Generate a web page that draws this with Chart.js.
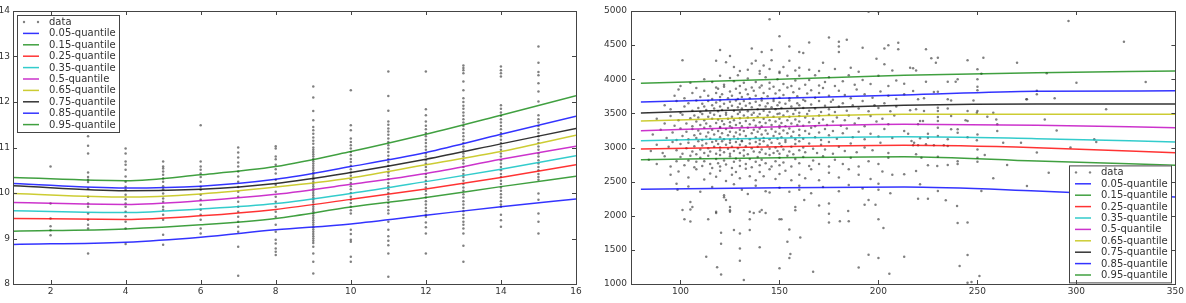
<!DOCTYPE html>
<html lang="en">

<head>
  <meta charset="UTF-8">
  <title>Quantile regression</title>
  <script src="https://cdn.jsdelivr.net/npm/chart.js"></script>
  <style>
    body { margin: 0; background: #fff; overflow: hidden; }
    canvas { position: absolute; top: 0; }
    #leftChart { left: -20px; }
    #rightChart { left: 590px; }
  </style>
</head>

<body>
  <canvas id="leftChart" width="610" height="303"></canvas>
  <canvas id="rightChart" width="596" height="303"></canvas>

  <script>
    // ---- left panel data ----
    const leftXTicks = [2, 4, 6, 8, 10, 12, 14, 16];
    const leftYTicks = [8, 9, 10, 11, 12, 13, 14];
    const leftColumnsX = [2, 3, 4, 5, 6, 7, 8, 9, 10, 11, 12, 13, 14, 15];
    const leftColumnsY = [
      [10.58, 9.77, 9.44, 9.27, 9.18, 9.07],
      [11.25, 11.04, 10.87, 10.45, 10.35, 10.29, 10.24, 10.10, 9.92, 9.77, 9.70, 9.55, 9.41, 9.30, 9.22, 8.67],
      [10.98, 10.87, 10.69, 10.62, 10.51, 10.36, 10.25, 10.14, 10.07, 9.96, 9.86, 9.77, 9.70, 9.59, 9.49, 9.37, 9.22, 8.88],
      [10.69, 10.58, 10.54, 10.47, 10.40, 10.32, 10.25, 10.15, 10.08, 9.99, 9.88, 9.81, 9.70, 9.63, 9.52, 9.41, 9.08, 8.86],
      [11.49, 10.69, 10.58, 10.51, 10.43, 10.35, 10.25, 10.14, 10.07, 9.96, 9.85, 9.74, 9.63, 9.52, 9.41, 9.22, 9.11],
      [11.00, 10.89, 10.78, 10.67, 10.58, 10.47, 10.36, 10.25, 10.13, 10.03, 9.92, 9.81, 9.70, 9.59, 9.48, 9.37, 9.26, 9.15, 8.82, 8.18],
      [11.03, 10.98, 10.80, 10.74, 10.62, 10.52, 10.43, 10.29, 10.18, 10.03, 9.92, 9.81, 9.70, 9.59, 9.48, 9.30, 9.15, 8.97, 8.89, 8.78, 8.71, 8.64],
      [12.34, 12.10, 11.80, 11.60, 11.45, 11.38, 11.30, 11.22, 11.15, 11.08, 11.00, 10.95, 10.90, 10.85, 10.80, 10.75, 10.70, 10.65, 10.60, 10.55, 10.50, 10.45, 10.40, 10.35, 10.30, 10.25, 10.20, 10.15, 10.10, 10.05, 10.00, 9.95, 9.90, 9.85, 9.80, 9.75, 9.70, 9.65, 9.60, 9.55, 9.50, 9.45, 9.40, 9.35, 9.30, 9.25, 9.20, 9.15, 9.10, 9.05, 9.00, 8.95, 8.90, 8.82, 8.67, 8.49, 8.23],
      [12.26, 11.49, 11.38, 11.20, 11.12, 11.05, 10.98, 10.90, 10.83, 10.75, 10.68, 10.60, 10.52, 10.45, 10.38, 10.30, 10.22, 10.15, 10.08, 10.00, 9.92, 9.85, 9.78, 9.70, 9.62, 9.55, 9.19, 9.10, 8.97, 8.93, 8.60, 8.49],
      [12.67, 12.13, 11.81, 11.57, 11.50, 11.42, 11.35, 11.28, 11.20, 11.12, 11.05, 10.98, 10.90, 10.82, 10.75, 10.68, 10.60, 10.52, 10.45, 10.38, 10.30, 10.22, 10.15, 10.08, 10.00, 9.92, 9.85, 9.78, 9.70, 9.62, 9.55, 9.37, 9.19, 9.05, 8.95, 8.85, 8.67, 8.16],
      [12.67, 11.84, 11.71, 11.57, 11.48, 11.40, 11.32, 11.25, 11.17, 11.10, 11.02, 10.95, 10.87, 10.80, 10.72, 10.65, 10.57, 10.50, 10.42, 10.35, 10.27, 10.20, 10.12, 10.05, 9.97, 9.90, 9.82, 9.75, 9.67, 9.60, 9.52, 9.48, 9.35, 9.25, 9.11, 8.67],
      [12.80, 12.75, 12.70, 12.63, 12.45, 12.26, 12.08, 12.00, 11.92, 11.85, 11.77, 11.70, 11.62, 11.55, 11.47, 11.40, 11.32, 11.25, 11.17, 11.10, 11.02, 10.95, 10.87, 10.80, 10.72, 10.65, 10.57, 10.50, 10.42, 10.35, 10.27, 10.20, 10.12, 10.05, 9.97, 9.90, 9.82, 9.75, 9.67, 9.60, 9.52, 9.45, 9.37, 9.30, 9.22, 9.11, 8.84, 8.49],
      [12.78, 12.70, 12.63, 12.56, 11.93, 11.85, 11.77, 11.70, 11.62, 11.55, 11.47, 11.40, 11.32, 11.25, 11.17, 11.10, 11.02, 10.95, 10.87, 10.80, 10.72, 10.65, 10.57, 10.50, 10.42, 10.35, 10.27, 10.20, 10.12, 10.05, 9.97, 9.90, 9.82, 9.75, 9.70, 9.52, 9.40, 9.26],
      [13.22, 12.86, 12.66, 12.59, 12.41, 12.23, 12.01, 11.71, 11.62, 11.55, 11.47, 11.40, 11.32, 11.25, 11.17, 11.10, 11.02, 10.95, 10.87, 10.80, 10.72, 10.65, 10.57, 10.50, 10.42, 10.35, 10.29, 9.99, 9.85, 9.55, 9.37, 9.11]
    ];
    // quantile curves, read at these x positions
    const leftCurveX = [1, 4, 6, 8, 10, 12, 14, 16];
    const leftQ05 = [8.87, 8.92, 9.03, 9.19, 9.32, 9.51, 9.70, 9.87];
    const leftQ15 = [9.16, 9.21, 9.30, 9.44, 9.69, 9.90, 10.14, 10.37];
    const leftQ25 = [9.44, 9.42, 9.50, 9.64, 9.86, 10.09, 10.34, 10.62];
    const leftQ35 = [9.61, 9.57, 9.65, 9.77, 9.99, 10.25, 10.52, 10.82];
    const leftQ50 = [9.79, 9.75, 9.83, 9.97, 10.19, 10.43, 10.74, 11.03];
    const leftQ65 = [9.99, 9.91, 9.98, 10.13, 10.33, 10.62, 10.91, 11.27];
    const leftQ75 = [10.16, 10.05, 10.08, 10.21, 10.45, 10.74, 11.08, 11.42];
    const leftQ85 = [10.21, 10.11, 10.15, 10.30, 10.58, 10.89, 11.29, 11.69];
    const leftQ95 = [10.34, 10.27, 10.40, 10.58, 10.91, 11.29, 11.71, 12.14];

    // ---- right panel data ----
    const rightXTicks = [100, 150, 200, 250, 300, 350];
    const rightYTicks = [1000, 1500, 2000, 2500, 3000, 3500, 4000, 4500, 5000];
    const rightPoints = [
      // high outliers
      [145,4880],[150,4630],[101,4280],[120,4430],[125,4340],[136,4450],[141,4400],[146,4430],[155,4480],[165,4540],
      [175,4610],[180,4550],[180,4480],[180,4400],[184,4580],[192,4460],[203,4450],[205,4500],[195,4990],[200,4990],
      [160,4400],[162,4385],
      // 4100 - 4300
      [118,4270],[123,4250],[127,4180],[130,4120],[134,4140],[136,4230],[138,4270],[140,4120],[142,4200],[145,4150],
      [146,4280],[150,4110],[152,4180],[155,4270],[158,4130],[160,4170],[165,4140],[170,4120],[172,4240],[178,4150],
      [186,4170],[190,4110],[199,4300],[203,4220],[207,4130],
      // 3900 - 4100
      [100,3900],[105,3950],[112,4000],[116,3960],[118,3880],[120,4050],[122,3920],[125,4020],[127,3970],[129,4060],
      [130,3900],[132,3950],[134,4010],[136,3880],[138,3960],[140,4080],[141,3910],[143,4030],[145,3950],[147,3890],
      [149,4000],[150,4090],[152,3930],[154,4050],[156,3900],[158,3980],[160,4050],[163,3920],[165,3990],[168,4060],
      [170,3910],[173,3960],[175,4030],[178,3900],[182,3970],[185,4060],[188,3920],[192,3990],[196,3930],[200,4050],
      [205,3900],[209,3980],
      // 3700 - 3900
      [97,3760],[99,3850],[102,3720],[106,3800],[108,3870],[110,3740],[112,3830],[114,3760],[116,3710],[118,3800],
      [119,3860],[120,3740],[121,3780],[122,3890],[124,3720],[125,3820],[126,3760],[128,3860],[129,3710],[130,3800],
      [131,3740],[133,3850],[134,3780],[135,3720],[137,3830],[138,3760],[140,3880],[141,3720],[142,3800],[144,3750],
      [145,3860],[147,3710],[148,3790],[150,3840],[150,3730],[152,3770],[154,3880],[155,3720],[157,3810],[159,3750],
      [160,3860],[162,3700],[164,3790],[166,3840],[168,3730],[170,3800],[172,3870],[175,3760],[177,3700],[180,3830],
      [183,3770],[186,3720],[189,3850],[193,3780],[197,3730],[201,3820],[205,3760],[209,3710],
      // 3500 - 3700
      [92,3620],[95,3560],[98,3680],[100,3510],[102,3600],[104,3650],[106,3540],[108,3690],[109,3580],[110,3520],
      [111,3640],[112,3600],[113,3550],[114,3680],[115,3510],[116,3620],[117,3570],[118,3660],[119,3530],[120,3600],
      [120,3690],[121,3550],[122,3640],[123,3510],[124,3580],[125,3670],[126,3610],[127,3540],[128,3690],[129,3590],
      [130,3520],[130,3640],[131,3570],[132,3680],[133,3610],[134,3530],[135,3650],[136,3590],[137,3510],[138,3670],
      [139,3560],[140,3620],[141,3690],[142,3540],[143,3600],[144,3650],[145,3520],[146,3590],[147,3680],[148,3560],
      [149,3620],[150,3500],[150,3660],[151,3580],[153,3640],[154,3530],[155,3690],[156,3600],[158,3550],[159,3650],
      [160,3510],[160,3620],[162,3580],[163,3680],[165,3540],[166,3630],[168,3570],[170,3680],[171,3520],[173,3610],
      [175,3560],[176,3670],[178,3520],[180,3600],[182,3650],[184,3540],[187,3620],[190,3570],[192,3680],[195,3530],
      [198,3620],[200,3580],[203,3650],[206,3530],[209,3600],
      // 3300 - 3500
      [88,3420],[92,3350],[95,3460],[97,3320],[99,3400],[101,3480],[103,3350],[105,3430],[106,3310],[107,3470],
      [108,3380],[109,3440],[110,3330],[111,3490],[112,3400],[113,3350],[114,3450],[115,3310],[116,3420],[117,3480],
      [118,3360],[119,3410],[120,3300],[120,3460],[121,3390],[122,3340],[123,3480],[124,3420],[125,3310],[125,3370],
      [126,3450],[127,3400],[128,3330],[129,3490],[130,3360],[130,3430],[131,3310],[132,3470],[133,3390],[134,3440],
      [135,3340],[136,3480],[137,3400],[138,3320],[139,3450],[140,3370],[140,3490],[141,3310],[142,3420],[143,3360],
      [144,3470],[145,3400],[146,3330],[147,3450],[148,3380],[149,3490],[150,3320],[150,3420],[151,3360],[152,3470],
      [153,3310],[154,3400],[155,3450],[156,3350],[157,3490],[158,3410],[159,3330],[160,3460],[160,3380],[162,3320],
      [163,3440],[164,3490],[165,3370],[167,3420],[168,3310],[170,3470],[170,3360],[172,3410],[174,3330],[175,3480],
      [177,3380],[179,3440],[181,3320],[183,3400],[185,3470],[188,3350],[190,3430],[193,3310],[196,3460],[199,3380],
      [202,3420],[205,3340],[208,3470],
      // 3100 - 3300
      [86,3190],[90,3260],[93,3140],[96,3220],[98,3110],[100,3280],[101,3170],[103,3230],[104,3120],[106,3270],
      [107,3180],[108,3140],[109,3250],[110,3200],[111,3110],[112,3290],[113,3160],[114,3220],[115,3130],[116,3260],
      [117,3190],[118,3100],[119,3240],[120,3150],[120,3290],[121,3210],[122,3120],[123,3270],[124,3180],[125,3230],
      [125,3110],[126,3290],[127,3160],[128,3220],[129,3130],[130,3260],[130,3190],[131,3100],[132,3240],[133,3170],
      [134,3290],[135,3120],[136,3210],[137,3260],[138,3150],[139,3230],[140,3110],[140,3280],[141,3190],[142,3140],
      [143,3250],[144,3200],[145,3120],[146,3270],[147,3170],[148,3230],[149,3130],[150,3290],[150,3200],[151,3150],
      [152,3250],[153,3110],[154,3210],[155,3280],[156,3160],[157,3230],[158,3120],[160,3260],[160,3180],[162,3130],
      [163,3240],[165,3200],[166,3290],[168,3150],[170,3220],[171,3110],[173,3270],[175,3180],[177,3240],[179,3130],
      [182,3210],[184,3280],[187,3150],[190,3230],[193,3120],[196,3200],[200,3160],[203,3270],[207,3140],
      // 2900 - 3100
      [85,2950],[88,3040],[91,2920],[94,3010],[96,3080],[98,2960],[100,3050],[101,2910],[103,2990],[104,3070],
      [106,2940],[107,3020],[108,2900],[109,3090],[110,2970],[111,3030],[112,2920],[113,3060],[114,2990],[115,2940],
      [116,3080],[117,3010],[118,2910],[119,3050],[120,2960],[120,3000],[121,3090],[122,2930],[123,3040],[124,2980],
      [125,2910],[125,3070],[126,3010],[127,2950],[128,3080],[129,2990],[130,2920],[130,3040],[131,3090],[132,2960],
      [133,3020],[134,2900],[135,3060],[136,2990],[137,2940],[138,3080],[139,3010],[140,2930],[140,3050],[141,2970],
      [142,3090],[143,2910],[144,3030],[145,2980],[146,3070],[147,2920],[148,3000],[149,2950],[150,3060],[150,2910],
      [151,3020],[152,2970],[153,3080],[155,2940],[156,3010],[157,2900],[158,3050],[160,2960],[160,3090],[162,3000],
      [163,2930],[165,3060],[167,2980],[169,2920],[171,3040],[173,2970],[175,3080],[177,2910],[180,3010],[183,2950],
      [186,3060],[189,2930],[193,3000],[197,2960],[201,3070],[205,2920],
      // 2700 - 2900
      [84,2820],[88,2760],[92,2870],[95,2720],[98,2800],[100,2860],[102,2740],[104,2810],[105,2880],[107,2710],
      [108,2790],[110,2850],[111,2730],[112,2800],[114,2880],[115,2760],[116,2700],[118,2830],[119,2770],[120,2890],
      [120,2720],[122,2810],[123,2750],[125,2870],[126,2700],[127,2790],[128,2840],[130,2730],[130,2810],[132,2880],
      [133,2760],[135,2830],[136,2710],[138,2790],[139,2860],[140,2740],[141,2820],[143,2770],[145,2890],[146,2720],
      [148,2800],[150,2850],[150,2740],[152,2780],[154,2880],[156,2720],[158,2830],[160,2770],[162,2860],[165,2730],
      [167,2810],[170,2760],[172,2870],[175,2720],[178,2820],[182,2760],[186,2850],[190,2720],[195,2800],[200,2760],
      [205,2850],
      // 2300 - 2700
      [95,2600],[99,2650],[104,2560],[108,2680],[112,2530],[115,2620],[118,2570],[120,2660],[123,2510],[126,2600],
      [128,2640],[130,2550],[133,2690],[135,2580],[138,2520],[140,2640],[142,2580],[145,2680],[148,2540],[150,2610],
      [153,2660],[156,2520],[160,2600],[163,2550],[166,2680],[170,2520],[175,2630],[180,2560],[185,2680],[190,2600],
      [196,2540],[202,2650],[207,2600],
      [104,2430],[110,2350],[116,2420],[122,2300],[127,2460],[131,2380],[134,2320],[138,2440],[143,2360],[150,2410],
      [155,2350],[160,2440],[160,2380],[166,2330],[172,2420],[180,2360],[185,2450],[192,2400],[200,2470],[200,2380],
      [206,2330],
      // low outliers
      [98,2470],[98.5,2380],[101,2085],[102,1950],[105,1915],[105,2200],[106,2130],[105,2090],[114,1950],[113,1400],
      [118,2060],[118,2040],[120.5,1750],[120.5,1590],[120.5,1140],[118.5,1245],[122,2270],[123,2230],[125,2130],[125,2080],
      [125,2060],[127,1790],[130,1740],[130,1520],[130,1340],[132,1060],[135,2060],[137,2040],[135,1950],[135,1790],
      [140,2060],[141,2085],[140,1540],[143,2040],[145,2340],[150,1950],[151,1950],[150,1230],[155,1800],[154,1620],
      [155.5,1440],[155,1380],[158,2130],[158,2080],[160.5,1680],[162.5,2230],[167,1180],[170,2150],[175,2180],[175,2030],
      [175,1900],[180.5,1920],[184.7,2070],[185,1920],[190,1240],[193,2160],[195,2230],[195,1430],[198.5,2160],[200,1950],
      [200,1380],[202.5,1820],[205.5,1150],
      // x above 210
      [296,4853],[324,4550],[335,3960],[300,3950],[315,3560],[290,3250],[284,3410],[280,2925],[286,2630],[297,3000],
      [309,3120],[310,3080],[275,2436],[275,3706],[280,3830],[280,3780],[289,3720],[285,4087],[265,2744],[270,4243],
      [272,3070],[263,3070],[260,3340],[260,3240],[259.5,3410],[258,3510],[258,2550],[255,3450],[253.7,2890],[253,4316],
      [252,4080],[252,2363],[250,4145],[250,4000],[250,3840],[250,3890],[248,3690],[250,3535],[249.7,3510],[245,4277],
      [245,3390],[245,3150],[250,3190],[249.7,3105],[250,2970],[250,2850],[250,2790],[245,1900],[239.7,2143],[240,1894],
      [241,1264],[245,1425],[251,1117],[213,1400],[234,2226],[230,2363],[225,2250],[220,2250],[221,2460],[213,2607],
      [219,2656],[225,2740],[229.7,2730],[240,2800],[240,2760],[235,2744],[219,2900],[221.7,2850],[230,2866],[235,3022],
      [233,3032],[228,3032],[224,3046],[220,3032],[217.5,3032],[216.7,3095],[218,3070],[221,3134],[225,3144],[230,3168],
      [230,3290],[230,3390],[230,3447],[230,3535],[230,3584],[235,3120],[236.7,3266],[240,3266],[240,3217],[225,3203],
      [215,3203],[213,3242],[221,3390],[220,3340],[222.5,3390],[216,3545],[219,3560],[223,3535],[235,3570],[236.7,3460],
      [245,3535],[244,3400],[216,4170],[217.5,4160],[219,4130],[226.7,4306],[229,4243],[230,4316],[224,4438],[210,4536],
      [210,4438],[224,3965],[213,3935],[235,3965],[240,4000],[239,3965],[228,3813],[230,3818],[220,3706],[223,3720],
      [235,3706],[236.7,3690],[217.5,3828],[213,3780],[274.7,3706],[245,1020],[247,1030]
    ];
    const rightCurveX = [80, 150, 213, 280, 350];
    const rightQ05 = [2387, 2412, 2421, 2363, 2275];
    const rightQ15 = [2822, 2851, 2866, 2802, 2740];
    const rightQ25 = [2978, 3012, 3032, 2998, 2924];
    const rightQ35 = [3100, 3139, 3159, 3129, 3081];
    const rightQ50 = [3247, 3305, 3339, 3325, 3291];
    const rightQ65 = [3388, 3447, 3486, 3486, 3486];
    const rightQ75 = [3505, 3569, 3618, 3637, 3637];
    const rightQ85 = [3667, 3720, 3769, 3823, 3830];
    const rightQ95 = [3940, 4000, 4057, 4096, 4121];

    const quantileLabels = ['0.05-quantile', '0.15-quantile', '0.25-quantile', '0.35-quantile', '0.5-quantile',
      '0.65-quantile', '0.75-quantile', '0.85-quantile', '0.95-quantile'];
    const quantileColors = ['rgba(0,0,255,0.8)', 'rgba(0,128,0,0.75)', 'rgba(255,0,0,0.8)', 'rgba(0,191,191,0.8)',
      'rgba(191,0,191,0.8)', 'rgba(191,191,0,0.8)', 'rgba(0,0,0,0.8)', 'rgba(0,0,255,0.8)', 'rgba(0,128,0,0.75)'];

    const FONT = '"DejaVu Sans", sans-serif';

    // box frame + inward tick marks, matplotlib style
    const framePlugin = {
      id: 'frame',
      afterDraw(chart) {
        const ctx = chart.ctx, a = chart.chartArea;
        const xs = chart.scales.x, ys = chart.scales.y;
        ctx.save();
        ctx.strokeStyle = '#444';
        ctx.lineWidth = 1;
        ctx.strokeRect(Math.round(a.left) + 0.5, Math.round(a.top) + 0.5,
          Math.round(a.right - a.left), Math.round(a.bottom - a.top));
        ctx.beginPath();
        xs.ticks.forEach(t => {
          const px = Math.round(xs.getPixelForValue(t.value)) + 0.5;
          ctx.moveTo(px, a.bottom); ctx.lineTo(px, a.bottom - 4);
          ctx.moveTo(px, a.top); ctx.lineTo(px, a.top + 4);
        });
        ys.ticks.forEach(t => {
          const py = Math.round(ys.getPixelForValue(t.value)) + 0.5;
          ctx.moveTo(a.left, py); ctx.lineTo(a.left + 4, py);
          ctx.moveTo(a.right, py); ctx.lineTo(a.right - 4, py);
        });
        ctx.stroke();
        ctx.restore();
      }
    };

    // legend drawn inside the axes
    const boxLegend = {
      id: 'boxLegend',
      afterDatasetsDraw(chart, args, opts) {
        const ctx = chart.ctx, a = chart.chartArea;
        const items = chart.data.datasets;
        const rowH = 11.4, w = 102, h = 14 + (items.length - 1) * rowH;
        const x0 = opts.corner === 'ul' ? Math.round(a.left) + 4 : Math.round(a.right) - w - 4;
        const y0 = opts.corner === 'ul' ? Math.round(a.top) + 4 : Math.round(a.bottom) - h - 2;
        ctx.save();
        ctx.fillStyle = '#fff';
        ctx.fillRect(x0, y0, w, h);
        ctx.strokeStyle = '#444';
        ctx.lineWidth = 1;
        ctx.strokeRect(x0 + 0.5, y0 + 0.5, w, Math.round(h));
        ctx.font = '10px ' + FONT;
        ctx.textBaseline = 'middle';
        items.forEach((ds, i) => {
          const cy = y0 + 7 + i * rowH;
          if (ds.showLine) {
            ctx.strokeStyle = ds.borderColor;
            ctx.lineWidth = 1.5;
            ctx.beginPath();
            ctx.moveTo(x0 + 6, cy); ctx.lineTo(x0 + 22, cy);
            ctx.stroke();
          } else {
            ctx.fillStyle = ds.backgroundColor;
            [x0 + 7, x0 + 21].forEach(px => {
              ctx.beginPath(); ctx.arc(px, cy, 1.2, 0, Math.PI * 2); ctx.fill();
            });
          }
          ctx.fillStyle = '#333';
          ctx.fillText(ds.label, x0 + 32, cy + 0.5);
        });
        ctx.restore();
      }
    };

    function makeChart(id, points, curveX, curves, xr, yr, xTicks, yTicks, yWidth, yPad, padRight, corner) {
      const datasets = [{
        label: 'data',
        data: points,
        showLine: false,
        pointRadius: 1.25,
        pointBorderWidth: 0,
        backgroundColor: 'rgba(60,60,60,0.65)',
        order: 20
      }];
      curves.forEach((ys, i) => {
        datasets.push({
          label: quantileLabels[i],
          data: curveX.map((x, j) => ({ x: x, y: ys[j] })),
          showLine: true,
          borderColor: quantileColors[i],
          borderWidth: 1.5,
          pointRadius: 0,
          cubicInterpolationMode: 'monotone',
          order: 10 - i
        });
      });
      const tickFont = { family: FONT, size: 9 };
      return new Chart(document.getElementById(id), {
        type: 'scatter',
        data: { datasets: datasets },
        plugins: [boxLegend, framePlugin],
        options: {
          responsive: false,
          animation: false,
          devicePixelRatio: 1,
          layout: { padding: { top: 11, right: padRight, left: 0, bottom: 0 } },
          plugins: {
            legend: { display: false },
            tooltip: { enabled: false },
            boxLegend: { corner: corner }
          },
          scales: {
            x: {
              type: 'linear', min: xr[0], max: xr[1],
              grid: { display: false, drawTicks: false },
              border: { display: false },
              afterBuildTicks: s => { s.ticks = xTicks.map(v => ({ value: v })); },
              afterFit: s => { s.height = 19; },
              ticks: { padding: 2, maxRotation: 0, color: '#333', font: tickFont, callback: v => String(v) }
            },
            y: {
              type: 'linear', min: yr[0], max: yr[1],
              grid: { display: false, drawTicks: false },
              border: { display: false },
              afterBuildTicks: s => { s.ticks = yTicks.map(v => ({ value: v })); },
              afterFit: s => { s.width = yWidth; },
              ticks: { padding: yPad, color: '#333', font: tickFont, callback: v => String(v) }
            }
          }
        }
      });
    }

    const leftPoints = [];
    leftColumnsX.forEach((x, i) => leftColumnsY[i].forEach(y => leftPoints.push({ x: x, y: y })));

    makeChart('leftChart', leftPoints, leftCurveX,
      [leftQ05, leftQ15, leftQ25, leftQ35, leftQ50, leftQ65, leftQ75, leftQ85, leftQ95],
      [1, 16], [8, 14], leftXTicks, leftYTicks, 33, 3, 14, 'ul');

    makeChart('rightChart', rightPoints.map(p => ({ x: p[0], y: p[1] })), rightCurveX,
      [rightQ05, rightQ15, rightQ25, rightQ35, rightQ50, rightQ65, rightQ75, rightQ85, rightQ95],
      [75, 350], [1000, 5000], rightXTicks, rightYTicks, 41, 4, 7, 'lr');
  </script>
</body>

</html>
